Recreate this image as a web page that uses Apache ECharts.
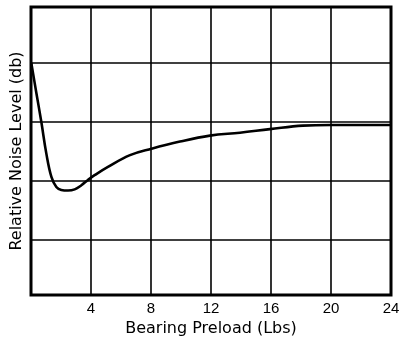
<!DOCTYPE html>
<html><head><meta charset="utf-8">
<script src="https://cdn.jsdelivr.net/npm/echarts@6/dist/echarts.min.js"></script>
<style>html,body{margin:0;padding:0;background:#fff}#c{width:404px;height:344px}</style>
</head><body><div id="c"></div>
<script>
const preload = [0.02, 0.36, 0.69, 1.02, 1.36, 1.69, 2.02, 2.47, 2.91, 3.36, 3.8, 4.24, 5.13, 6.6, 8.04, 9.93, 11.93, 13.93, 15.93, 18.13, 20, 22, 24];
const noise =   [3.0, 2.49, 2.0, 1.47, 1.07, 0.9, 0.85, 0.84, 0.86, 0.93, 1.02, 1.10, 1.24, 1.44, 1.55, 1.67, 1.77, 1.82, 1.88, 1.94, 1.95, 1.95, 1.95];
const xTicks = [0, 4, 8, 12, 16, 20, 24];
const xName = 'Bearing Preload (Lbs)';
const yName = 'Relative Noise Level (db)';

const chart = echarts.init(document.getElementById('c'));
const font = 'Liberation Sans, Arial, sans-serif';
const nameFont = 'DejaVu Sans, sans-serif';
chart.setOption({
  animation: false,
  grid: {left: 31, right: 13, top: 7, bottom: 49, show: true, borderColor: '#000', borderWidth: 3, backgroundColor: 'transparent'},
  xAxis: {
    type: 'value', min: xTicks[0], max: xTicks[xTicks.length - 1], interval: 4,
    name: xName, nameLocation: 'middle', nameGap: 23,
    nameTextStyle: {color: '#000', fontSize: 16, fontFamily: nameFont},
    axisLine: {show: false}, axisTick: {show: false},
    axisLabel: {color: '#000', fontSize: 15, fontFamily: font, margin: 6, showMinLabel: false,
      formatter: v => xTicks.includes(v) ? String(v) : ''},
    splitLine: {show: true, lineStyle: {color: '#000', width: 1.6}}
  },
  yAxis: {
    type: 'value', min: -0.93, max: 3.95, splitNumber: 5,
    name: yName, nameLocation: 'middle', nameGap: 6,
    nameTextStyle: {color: '#000', fontSize: 16, fontFamily: nameFont},
    axisLine: {show: false}, axisTick: {show: false}, axisLabel: {show: false},
    splitLine: {show: true, lineStyle: {color: '#000', width: 1.6}}
  },
  series: [{
    type: 'line', smooth: 0.4, symbol: 'none',
    data: preload.map((x, i) => [x, noise[i]]),
    lineStyle: {color: '#000', width: 2.6}
  }]
});
</script></body></html>
